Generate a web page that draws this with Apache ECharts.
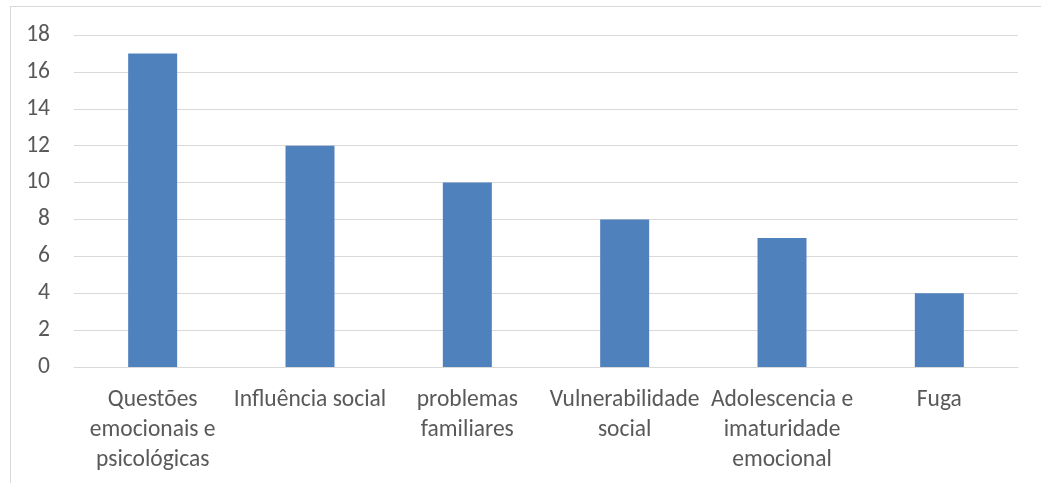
<!DOCTYPE html>
<html>
<head>
<meta charset="utf-8">
<script src="https://cdn.jsdelivr.net/npm/echarts@6/dist/echarts.min.js"></script>
<style>
  html, body { margin: 0; padding: 0; background: #fff; }
  #frame { position: absolute; left: 10px; top: 6px; width: 1040px; height: 490px; border: 1px solid #d9d9d9; box-sizing: border-box; }
  #chart { position: absolute; left: 0; top: 0; width: 1041px; height: 483px; }
</style>
</head>
<body>
<div id="frame"></div>
<div id="chart"></div>
<script>
const categories = [
  'Questões\nemocionais e\npsicológicas',
  'Influência social',
  'problemas\nfamiliares',
  'Vulnerabilidade\nsocial',
  'Adolescencia e\nimaturidade\nemocional',
  'Fuga'
];
const values = [17, 12, 10, 8, 7, 4];
const yTicks = { min: 0, max: 18, interval: 2 };

const font = 'Carlito, Lato, "Liberation Sans", sans-serif';
const chart = echarts.init(document.getElementById('chart'), null, { renderer: 'canvas' });
chart.setOption({
  animation: false,
  grid: { left: 74, right: 23, top: 35, bottom: 116 },
  xAxis: {
    type: 'category',
    data: categories,
    axisLine: { lineStyle: { color: '#d9d9d9', width: 1 } },
    axisTick: { show: false },
    axisLabel: {
      color: '#595959',
      fontFamily: font,
      fontSize: 23.5,
      lineHeight: 30,
      margin: 18,
      interval: 0
    }
  },
  yAxis: {
    type: 'value',
    min: yTicks.min,
    max: yTicks.max,
    interval: yTicks.interval,
    axisLine: { show: false },
    axisTick: { show: false },
    splitLine: { lineStyle: { color: '#d9d9d9', width: 1 } },
    axisLabel: {
      color: '#595959',
      fontFamily: font,
      fontSize: 23.5,
      margin: 24
    }
  },
  series: [{
    type: 'bar',
    data: values,
    barWidth: 49,
    itemStyle: { color: '#4f81bd' }
  }]
});
</script>
</body>
</html>
